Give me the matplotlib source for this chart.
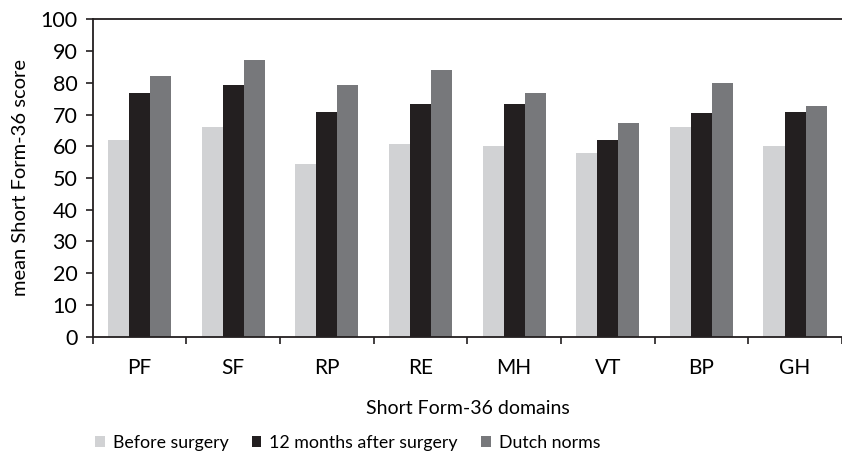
import matplotlib
matplotlib.use("Agg")
import matplotlib.pyplot as plt
import numpy as np

categories = ["PF", "SF", "RP", "RE", "MH", "VT", "BP", "GH"]
before = [62.0, 66.1, 54.4, 60.7, 60.1, 57.9, 66.1, 60.1]
after12 = [76.8, 79.3, 70.8, 73.3, 73.3, 62.0, 70.5, 70.8]
norms = [82.1, 87.2, 79.3, 84.0, 76.8, 67.3, 79.9, 72.7]
series_names = ["Before surgery", "12 months after surgery", "Dutch norms"]
colors = ["#D1D2D4", "#231F20", "#77787B"]

plt.rcParams['font.family'] = ['Lato', 'DejaVu Sans']

fig = plt.figure(figsize=(8.42, 4.57), dpi=100)
left, right, top, bottom = 92.7, 842 + 0.4, 19.3, 336.7
ax = fig.add_axes([left/842, 1-bottom/457, (right-left)/842, (bottom-top)/457])

x = np.arange(len(categories))
w = 0.225
for i, (vals, name, c) in enumerate(zip([before, after12, norms], series_names, colors)):
    ax.bar(x + (i-1)*w, vals, width=w, color=c, label=name, linewidth=0)

ax.set_xlim(-0.5, len(categories)-0.5 + 0.005)
ax.set_ylim(0, 100)
ax.set_yticks(np.arange(0, 101, 10))
ax.set_xticks(x)
ax.set_xticklabels(categories, fontsize=15)
ax.set_xticks(np.arange(-0.5, len(categories)-0.4, 1), minor=True)
ax.tick_params(axis='x', which='major', length=0, pad=15)
ax.tick_params(axis='x', which='minor', length=5, direction='out', color='#231F20', width=1.2)
ax.tick_params(axis='y', which='major', length=5, direction='out', labelsize=15.5,
               color='#231F20', width=1.2, pad=6)
ax.spines['right'].set_visible(False)
for s in ax.spines.values():
    s.set_color('#231F20')
    s.set_linewidth(1.3)
ax.set_ylabel("mean Short Form-36 score", fontsize=14.5, labelpad=8)
ax.set_xlabel("Short Form-36 domains", fontsize=14, labelpad=16)

fig.legend(loc='center left', bbox_to_anchor=(95/842, 1-443/457), ncol=3, frameon=False,
           fontsize=12.8, handlelength=0.55, handleheight=0.55, handletextpad=0.45,
           columnspacing=1.3, borderaxespad=0, borderpad=0)

fig.savefig("out.png", dpi=100)
